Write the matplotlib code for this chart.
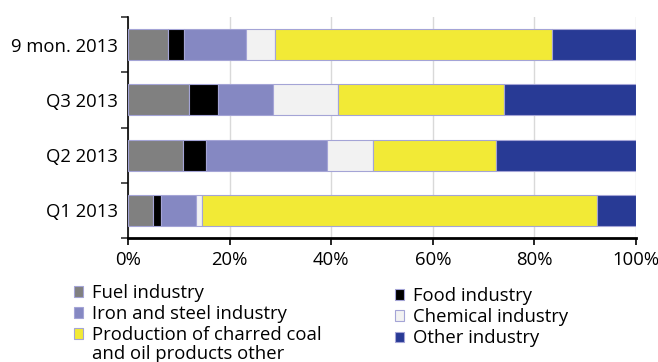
import numpy as np
import matplotlib.pyplot as plt
from matplotlib.ticker import FixedLocator

plt.rcParams['font.family'] = ['Open Sans', 'DejaVu Sans']

periods = ['Q1 2013', 'Q2 2013', 'Q3 2013', '9 mon. 2013']
fuel = [4.9, 10.9, 12.0, 7.9]
food = [1.6, 4.4, 5.7, 3.2]
iron = [6.9, 23.9, 10.8, 12.1]
chem = [1.2, 9.0, 12.9, 5.7]
prod = [77.7, 24.3, 32.6, 54.5]
other = [7.7, 27.5, 26.0, 16.6]

names = ['Fuel industry', 'Food industry', 'Iron and steel industry',
         'Chemical industry', 'Production of charred coal',
         'Other industry']
series = [fuel, food, iron, chem, prod, other]
colors = ['#808080', '#000000', '#8588c2', '#f2f2f2', '#f2ea36', '#283a95']

fig = plt.figure(figsize=(6.58, 3.62), dpi=100)
ax = fig.add_axes([0.1945, 0.3425, 0.772, 0.6105])

y = np.arange(len(periods))
left = np.zeros(len(periods))
bars = []
for vals, name, c in zip(series, names, colors):
    b = ax.barh(y, vals, left=left, height=0.56, color=c, edgecolor='#a4a4d6',
                linewidth=0.8, label=name, zorder=3)
    bars.append(b)
    left += np.array(vals)

fs = 13.3
ax.set_xlim(0, 100)
ax.set_ylim(-0.5, 3.5)
ax.set_xticks(np.arange(0, 101, 20))
ax.set_xticklabels([f'{v}%' for v in range(0, 101, 20)])
ax.set_yticks(y)
ax.set_yticklabels(periods)
ax.yaxis.set_minor_locator(FixedLocator(np.arange(-0.5, 3.6, 1)))
ax.tick_params(axis='y', which='major', length=0, pad=7, labelsize=fs)
ax.tick_params(axis='y', which='minor', length=5, width=1.2, color='#333333')
ax.tick_params(axis='x', length=5, width=1.2, labelsize=fs, pad=4)
ax.grid(axis='x', color='#d9d9d9', linewidth=1, zorder=0)
for s in ['top', 'right']:
    ax.spines[s].set_visible(False)
ax.spines['left'].set_linewidth(1.2)
ax.spines['bottom'].set_linewidth(2)

leg_kw = dict(loc='upper left', frameon=False, fontsize=fs, handlelength=0.5,
              handleheight=0.5, handletextpad=0.5, labelspacing=0.17,
              borderaxespad=0, borderpad=0)
fig.legend([bars[i] for i in [0, 2, 4]], [names[i] for i in [0, 2, 4]],
           bbox_to_anchor=(0.1125, 0.2155), **leg_kw)
fig.legend([bars[i] for i in [1, 3, 5]], [names[i] for i in [1, 3, 5]],
           bbox_to_anchor=(0.600, 0.207), **leg_kw)
fig.text(0.14, 0.022, 'and oil products other', fontsize=fs, ha='left', va='center')

fig.savefig('out.png', dpi=100)
